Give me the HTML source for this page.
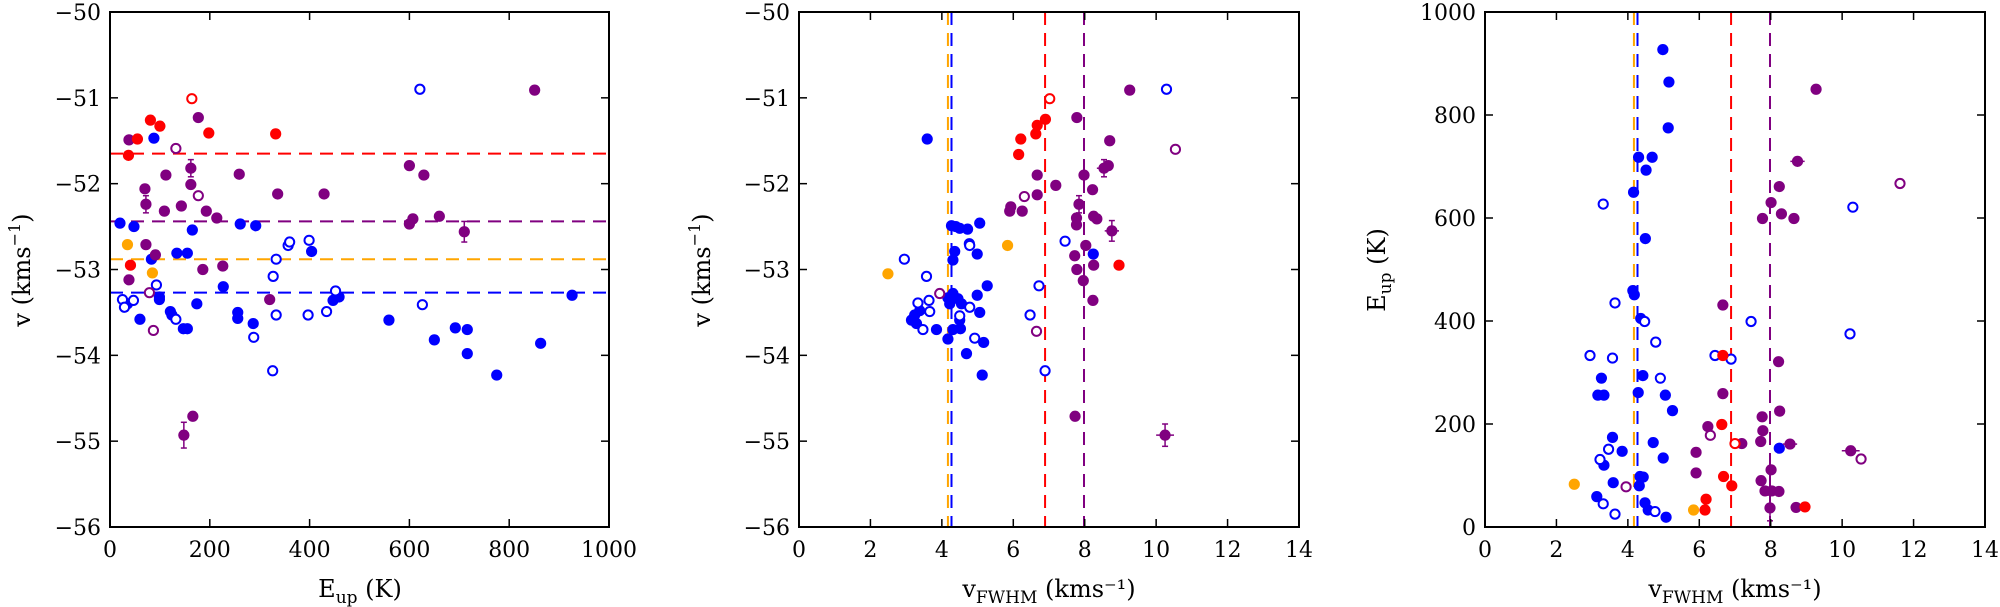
<!DOCTYPE html>
<html><head><meta charset="utf-8">
<style>
html,body{margin:0;padding:0;background:#fff;}
svg{display:block;font-family:"DejaVu Serif","Liberation Serif",serif;}
</style></head>
<body>
<svg id="chart" width="2000" height="607" viewBox="0 0 2000 607" xmlns="http://www.w3.org/2000/svg"></svg>
<script>
// Panel 1: E_up vs v
const p1BlueE=[20,48,88,83,165,134,155,227,261,292,404,99,99,35,60,121,124,147,155,174,256,256,287,447,459,559,650,692,716,716,775,863,926];
const p1BlueV=[-52.46,-52.5,-51.47,-52.88,-52.54,-52.81,-52.81,-53.2,-52.47,-52.49,-52.79,-53.32,-53.35,-53.4,-53.58,-53.49,-53.53,-53.69,-53.69,-53.4,-53.5,-53.57,-53.63,-53.36,-53.32,-53.59,-53.82,-53.68,-53.7,-53.98,-54.23,-53.86,-53.3];
const p1BlueOpenE=[25,29,47,93,132,288,327,333,333,326,357,360,399,397,434,452,621,626];
const p1BlueOpenV=[-53.35,-53.44,-53.36,-53.18,-53.58,-53.79,-53.08,-52.88,-53.53,-54.18,-52.72,-52.68,-52.66,-53.53,-53.49,-53.25,-50.9,-53.41];
const p1RedE=[55,81,100,198,332,37,41];
const p1RedV=[-51.48,-51.26,-51.33,-51.41,-51.42,-51.67,-52.95];
const p1RedOpenE=[164];
const p1RedOpenV=[-51.01];
const p1OrangeE=[35,85];
const p1OrangeV=[-52.71,-53.04];
const p1PurpleE=[38,177,112,162,162,70,72,109,143,193,214,259,336,429,72,91,38,186,226,320,166,148,600,629,600,607,660,710,851];
const p1PurpleV=[-51.49,-51.23,-51.9,-51.82,-52.01,-52.06,-52.24,-52.32,-52.26,-52.32,-52.4,-51.89,-52.12,-52.12,-52.71,-52.83,-53.12,-53.0,-52.96,-53.35,-54.71,-54.93,-51.79,-51.9,-52.47,-52.41,-52.38,-52.56,-50.91];
const p1PurpleVErr=[0,0,0,0.1,0,0,0.1,0,0,0,0,0,0,0,0,0,0,0,0,0,0,0.15,0,0,0,0,0,0.12,0.04];
const p1PurpleOpenE=[132,177,79,87];
const p1PurpleOpenV=[-51.59,-52.14,-53.27,-53.71];
const p1MeanV=[-53.27,-52.88,-52.44,-51.65]; // blue, orange, purple, red

// Panel 2: FWHM vs v
const p2BlueW=[3.59,4.27,4.39,4.5,4.72,5.06,4.36,4.31,4.99,5.27,4.99,4.17,4.31,4.45,4.22,4.55,5.06,4.5,3.38,3.24,3.15,3.29,3.85,4.31,4.52,4.17,5.17,4.69,5.13,8.24];
const p2BlueV=[-51.48,-52.49,-52.5,-52.52,-52.53,-52.46,-52.79,-52.89,-52.82,-53.19,-53.3,-53.33,-53.28,-53.34,-53.4,-53.4,-53.5,-53.59,-53.48,-53.53,-53.59,-53.63,-53.7,-53.7,-53.69,-53.81,-53.85,-53.98,-54.23,-52.82];
const p2BlueOpenW=[10.29,7.45,6.72,6.47,6.89,2.95,3.57,4.77,4.78,3.33,3.64,3.66,4.5,4.78,3.47,4.92];
const p2BlueOpenV=[-50.9,-52.67,-53.19,-53.53,-54.18,-52.88,-53.08,-52.7,-52.72,-53.39,-53.36,-53.49,-53.54,-53.44,-53.7,-53.8];
const p2RedW=[6.9,6.67,6.63,6.21,6.15,8.96];
const p2RedV=[-51.25,-51.32,-51.42,-51.48,-51.66,-52.95];
const p2RedOpenW=[7.02];
const p2RedOpenV=[-51.01];
const p2OrangeW=[5.84,2.49];
const p2OrangeV=[-52.72,-53.05];
const p2PurpleW=[9.26,7.78,8.7,8.54,8.66,6.67,7.98,7.19,8.22,6.67,7.84,5.93,5.9,6.25,7.77,7.77,8.25,8.34,8.76,8.03,7.72,8.25,7.78,7.96,8.23,7.73,10.25];
const p2PurpleV=[-50.91,-51.23,-51.5,-51.82,-51.79,-51.9,-51.9,-52.02,-52.07,-52.13,-52.24,-52.27,-52.32,-52.32,-52.4,-52.48,-52.38,-52.41,-52.55,-52.72,-52.84,-52.95,-53.0,-53.13,-53.36,-54.71,-54.93];
const p2PurpleWErr=[0,0,0,0.2,0,0,0,0,0,0,0,0,0,0,0,0,0,0,0.2,0,0,0,0,0,0,0,0.25];
const p2PurpleVErr=[0,0,0,0.1,0,0,0,0,0,0,0.1,0,0,0,0,0,0,0,0.12,0,0,0,0,0,0,0,0.13];
const p2PurpleOpenW=[6.31,3.94,6.65,10.54];
const p2PurpleOpenV=[-52.15,-53.28,-53.72,-51.6];
const meanW=[4.27,4.17,7.98,6.89]; // blue, orange, purple, red

// Panel 3: FWHM vs E_up
const p3BlueW=[4.98,5.15,5.13,4.3,4.68,4.51,4.16,4.49,4.14,4.18,4.36,8.24,4.42,3.26,4.29,5.05,3.16,3.33,5.25,3.57,4.71,3.84,4.99,3.59,3.13,3.33,4.34,4.43,4.32,4.48,4.57,5.07];
const p3BlueE=[927,864,775,718,718,693,650,560,459,451,405,153,294,289,261,256,256,256,226,174,164,147,134,86,59,120,98,97,80,47,33,19];
const p3BlueOpenW=[3.31,10.3,3.64,4.47,7.45,10.22,4.78,2.94,3.57,6.44,6.89,4.91,3.46,3.22,3.31,3.64,4.76];
const p3BlueOpenE=[627,621,435,399,399,375,359,333,328,333,326,289,151,131,45,25,30];
const p3RedW=[6.66,6.63,6.68,6.91,6.19,6.16,8.96];
const p3RedE=[333,199,98,80,54,33,39];
const p3RedOpenW=[7.0];
const p3RedOpenE=[162];
const p3OrangeW=[2.5,5.84];
const p3OrangeE=[83,33];
const p3PurpleW=[9.27,8.75,8.24,8.01,7.77,8.3,8.65,6.66,8.22,6.66,8.25,7.76,6.24,7.78,7.72,7.19,8.54,10.24,5.91,5.91,8.01,7.73,7.84,8.03,8.23,7.98,8.71];
const p3PurpleE=[850,710,661,630,599,608,599,431,321,259,225,214,195,187,166,162,161,148,145,105,111,90,70,70,69,37,38];
const p3PurpleWErr=[0,0.2,0,0,0,0,0,0,0,0,0,0,0,0,0,0,0.2,0.25,0,0,0,0,0,0,0,0,0];
const p3PurpleEErr=[0,0,0,0,0,0,0,0,0,0,0,0,0,0,0,0,0,0,0,0,0,0,0,0,0,25,0];
const p3PurpleOpenW=[11.62,6.31,10.53,3.95];
const p3PurpleOpenE=[667,178,132,78];

const xTicks1=[0,200,400,600,800,1000];
const xTicksW=[0,2,4,6,8,10,12,14];
const yTicksV=[-50,-51,-52,-53,-54,-55,-56];
const yTicksE=[0,200,400,600,800,1000];

const C={blue:'#0000ff',red:'#ff0000',orange:'#ffa500',purple:'#800080'};
const svg=document.getElementById('chart');
const NS='http://www.w3.org/2000/svg';
const TOP=12,BOT=527;
function mk(tag,attrs,parent){const e=document.createElementNS(NS,tag);for(const k in attrs)e.setAttribute(k,attrs[k]);(parent||svg).appendChild(e);return e;}
function lin(d0,d1,r0,r1){return v=>r0+(v-d0)*(r1-r0)/(d1-d0);}
function fmt(v){return v<0?'\u2212'+Math.abs(v):String(v);}

function panel(name,L,R,xd,yd,xt,yt){
  const g=mk('g',{});
  
  
  const sx=lin(xd[0],xd[1],L,R), sy=lin(yd[0],yd[1],BOT,TOP);
  return {g,sx,sy,L,R,xt,yt};
}
function frame(P){
  const {g,sx,sy,L,R,xt,yt}=P;
  P.xt.forEach(t=>{
    const x=sx(t);
    const tk=mk('line',{x1:x,x2:x,y1:BOT,y2:BOT-8,stroke:'#000','stroke-width':1.5},g);
    
    
    mk('line',{x1:x,x2:x,y1:TOP,y2:TOP+8,stroke:'#000','stroke-width':1.5},g);
    const tx=mk('text',{x:x,y:557,'text-anchor':'middle','font-size':22},g);
    tx.textContent=fmt(t);
    
    
  });
  P.yt.forEach(t=>{
    const y=sy(t);
    const tk=mk('line',{x1:L,x2:L+8,y1:y,y2:y,stroke:'#000','stroke-width':1.5},g);
    
    
    mk('line',{x1:R,x2:R-8,y1:y,y2:y,stroke:'#000','stroke-width':1.5},g);
    const tx=mk('text',{x:L-9,y:y+8,'text-anchor':'end','font-size':22},g);
    tx.textContent=fmt(t);
    
    
  });
  const r=mk('rect',{x:L,y:TOP,width:R-L,height:BOT-TOP,fill:'none',stroke:'#000','stroke-width':2},g);
  
  
}
function hline(P,v,col){
  const l=mk('line',{x1:P.L,x2:P.R,y1:P.sy(v),y2:P.sy(v),stroke:col,'stroke-width':2,'stroke-dasharray':'13,8'},P.g);
  
  
}
function vline(P,w,col){
  const l=mk('line',{x1:P.sx(w),x2:P.sx(w),y1:TOP,y2:BOT,stroke:col,'stroke-width':2,'stroke-dasharray':'13,8'},P.g);
  
  
}
function pts(P,xs,ys,col,open,xe,ye,nm){
  xs.forEach((xv,i)=>{
    const cx=P.sx(xv), cy=P.sy(ys[i]);
    if(xe&&xe[i]){mk('line',{x1:P.sx(xv-xe[i]),x2:P.sx(xv+xe[i]),y1:cy,y2:cy,stroke:col,'stroke-width':1.5},P.g);}
    if(ye&&ye[i]){const a=P.sy(ys[i]-ye[i]),b=P.sy(ys[i]+ye[i]);mk('line',{x1:cx,x2:cx,y1:a,y2:b,stroke:col,'stroke-width':1.5},P.g);
      mk('line',{x1:cx-3,x2:cx+3,y1:a,y2:a,stroke:col,'stroke-width':1.5},P.g);mk('line',{x1:cx-3,x2:cx+3,y1:b,y2:b,stroke:col,'stroke-width':1.5},P.g);}
    const c=open?mk('circle',{cx:cx,cy:cy,r:4.6,fill:'#fff',stroke:col,'stroke-width':2},P.g)
                :mk('circle',{cx:cx,cy:cy,r:5.6,fill:col},P.g);
    
    
  });
}
function label(x,y,rot,main,sub,rest,name){
  const t=mk('text',{x:x,y:y,'text-anchor':'middle','font-size':24,transform:rot?`rotate(-90 ${x} ${y})`:''});
  
  
  const a=mk('tspan',{},t);a.textContent=main;
  if(sub){const s=mk('tspan',{'font-size':17,dy:6},t);s.textContent=sub;const r=mk('tspan',{dy:-6},t);r.textContent=rest;}
  return t;
}
function vlabel(x,y,name){
  const t=mk('text',{x:x,y:y,'text-anchor':'middle','font-size':24,transform:`rotate(-90 ${x} ${y})`});
  
  
  const a=mk('tspan',{},t);a.textContent='v (kms';
  const s=mk('tspan',{'font-size':16,dy:-10},t);s.textContent='\u22121';
  const r=mk('tspan',{dy:10},t);r.textContent=')';
}

// Panel 1
const P1=panel('panel-eup-velocity',110,609,[0,1000],[-56,-50],xTicks1,yTicksV);
p1MeanV.forEach((v,i)=>hline(P1,v,[C.blue,C.orange,C.purple,C.red][i]));
pts(P1,p1BlueE,p1BlueV,C.blue,false,null,null,'blue-point');
pts(P1,p1BlueOpenE,p1BlueOpenV,C.blue,true,null,null,'blue-open-point');
pts(P1,p1OrangeE,p1OrangeV,C.orange,false,null,null,'orange-point');
pts(P1,p1PurpleE,p1PurpleV,C.purple,false,null,p1PurpleVErr,'purple-point');
pts(P1,p1PurpleOpenE,p1PurpleOpenV,C.purple,true,null,null,'purple-open-point');
pts(P1,p1RedE,p1RedV,C.red,false,null,null,'red-point');
pts(P1,p1RedOpenE,p1RedOpenV,C.red,true,null,null,'red-open-point');
frame(P1);
vlabel(30,270,'y-axis-title-1');
label(360,597,false,'E','up',' (K)','x-axis-title-1');

// Panel 2
const P2=panel('panel-fwhm-velocity',799,1299,[0,14],[-56,-50],xTicksW,yTicksV);
meanW.forEach((w,i)=>vline(P2,w,[C.blue,C.orange,C.purple,C.red][i]));
pts(P2,p2BlueW,p2BlueV,C.blue,false,null,null,'blue-point');
pts(P2,p2BlueOpenW,p2BlueOpenV,C.blue,true,null,null,'blue-open-point');
pts(P2,p2OrangeW,p2OrangeV,C.orange,false,null,null,'orange-point');
pts(P2,p2PurpleW,p2PurpleV,C.purple,false,p2PurpleWErr,p2PurpleVErr,'purple-point');
pts(P2,p2PurpleOpenW,p2PurpleOpenV,C.purple,true,null,null,'purple-open-point');
pts(P2,p2RedW,p2RedV,C.red,false,null,null,'red-point');
pts(P2,p2RedOpenW,p2RedOpenV,C.red,true,null,null,'red-open-point');
frame(P2);
vlabel(710,270,'y-axis-title-2');
label(1049,597,false,'v','FWHM',' (kms\u207B\u00B9)','x-axis-title-2');

// Panel 3
const P3=panel('panel-fwhm-eup',1485,1985,[0,14],[0,1000],xTicksW,yTicksE);
meanW.forEach((w,i)=>vline(P3,w,[C.blue,C.orange,C.purple,C.red][i]));
pts(P3,p3BlueW,p3BlueE,C.blue,false,null,null,'blue-point');
pts(P3,p3BlueOpenW,p3BlueOpenE,C.blue,true,null,null,'blue-open-point');
pts(P3,p3OrangeW,p3OrangeE,C.orange,false,null,null,'orange-point');
pts(P3,p3PurpleW,p3PurpleE,C.purple,false,p3PurpleWErr,p3PurpleEErr,'purple-point');
pts(P3,p3PurpleOpenW,p3PurpleOpenE,C.purple,true,null,null,'purple-open-point');
pts(P3,p3RedW,p3RedE,C.red,false,null,null,'red-point');
pts(P3,p3RedOpenW,p3RedOpenE,C.red,true,null,null,'red-open-point');
frame(P3);
label(1385,270,true,'E','up',' (K)','y-axis-title-3');
label(1735,597,false,'v','FWHM',' (kms\u207B\u00B9)','x-axis-title-3');
</script>
</body></html>
